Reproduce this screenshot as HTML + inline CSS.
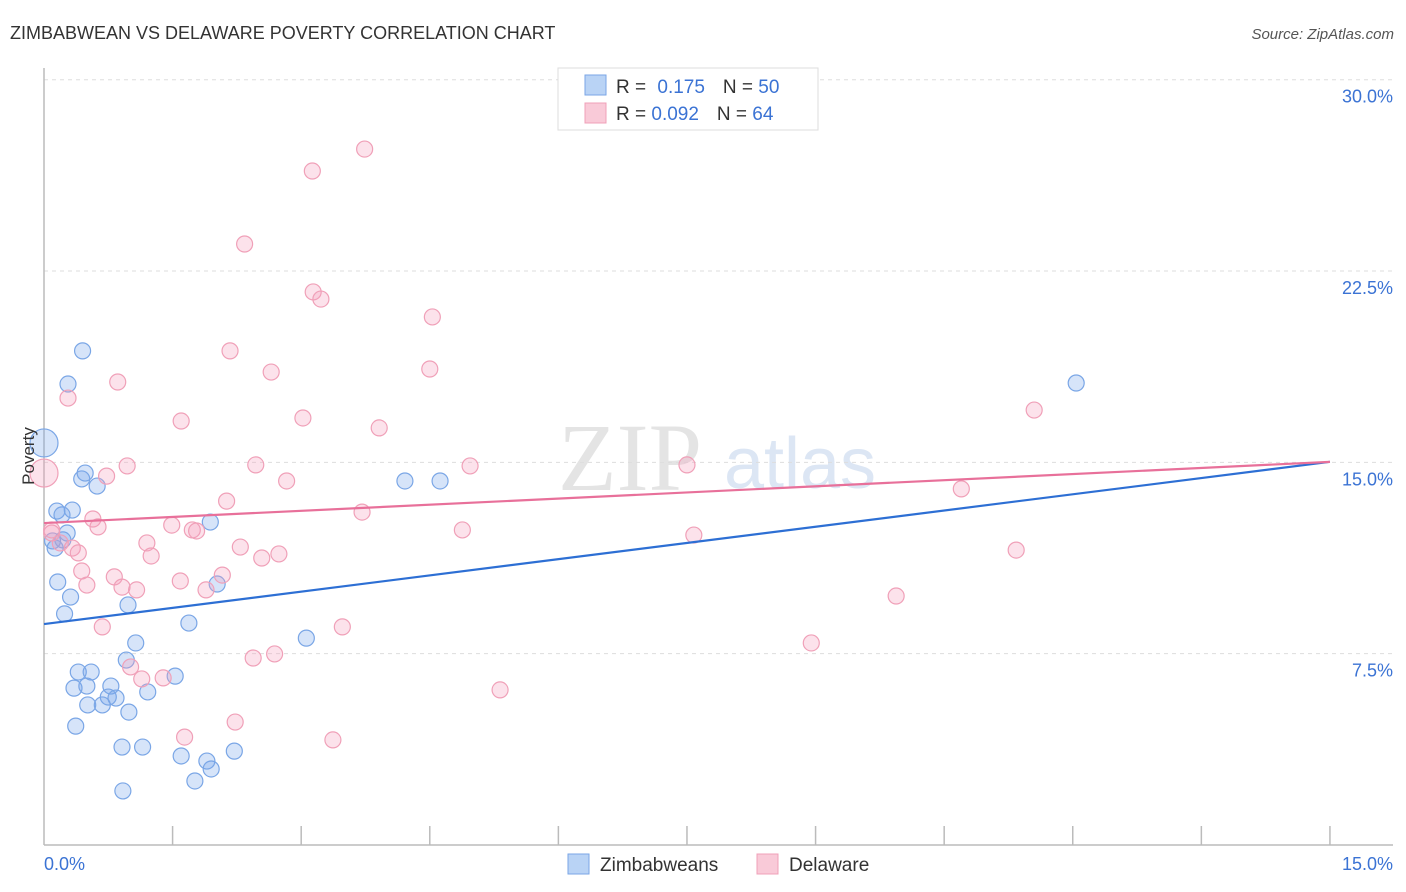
<!DOCTYPE html>
<html><head><meta charset="utf-8"><style>
body{margin:0;background:#fff;font-family:"Liberation Sans",sans-serif;}
svg{display:block}
</style></head><body>
<svg id="chart" width="1406" height="892">
<text x="10" y="39" font-size="18" fill="#333">ZIMBABWEAN VS DELAWARE POVERTY CORRELATION CHART</text>
<text x="1394" y="39" font-size="15" fill="#555" font-style="italic" text-anchor="end">Source: ZipAtlas.com</text>
<text x="630" y="490" font-size="96" fill="#e4e4e4" font-family="Liberation Serif" text-anchor="middle">ZIP</text>
<text x="800" y="488" font-size="72" fill="#dce6f4" text-anchor="middle">atlas</text>
<g id="grid"></g>
<g id="axes"></g>
<g id="marks"></g>
<text transform="translate(34,456) rotate(-90)" font-size="17" fill="#333" text-anchor="middle">Poverty</text>
<g>
<rect x="558" y="68" width="260" height="62" fill="#fff" stroke="#ddd"/>
<rect x="585" y="75" width="21" height="20" fill="#b9d3f5" stroke="#7aa6e6"/>
<rect x="585" y="103" width="21" height="20" fill="#f9cad8" stroke="#f0a0b8"/>
<text x="616" y="93" font-size="19" fill="#333">R = <tspan fill="#3b73d4" dx="6">0.175</tspan><tspan dx="18" fill="#333">N = </tspan><tspan fill="#3b73d4">50</tspan></text>
<text x="616" y="120" font-size="19" fill="#333">R = <tspan fill="#3b73d4">0.092</tspan><tspan dx="18" fill="#333">N = </tspan><tspan fill="#3b73d4">64</tspan></text>
</g>
<g>
<rect x="568" y="854" width="21" height="20" fill="#b9d3f5" stroke="#7aa6e6"/>
<text x="600" y="871" font-size="19" fill="#333">Zimbabweans</text>
<rect x="757" y="854" width="21" height="20" fill="#f9cad8" stroke="#f0a0b8"/>
<text x="789" y="871" font-size="19" fill="#333">Delaware</text>
</g>
</svg>
<script>
const yTicks=[7.5,15,22.5,30];
const yTickLabels=["7.5%","15.0%","22.5%","30.0%"];
const xTickLabels=["0.0%","15.0%"];
const blueX=[0,0.45,0.28,0.44,0.48,0.62,0.15,0.33,0.21,0.27,0.10,0.13,0.22,0.16,0.31,0.24,0.98,1.94,2.02,1.69,1.07,0.96,0.40,0.55,1.53,0.35,0.50,0.78,1.21,0.75,0.84,0.51,0.68,0.99,0.37,0.91,1.15,1.60,1.90,1.95,2.22,1.76,0.92,3.06,4.21,4.62,12.04];
const blueY=[15.76,19.37,18.07,14.35,14.58,14.07,13.09,13.13,12.94,12.23,11.92,11.64,11.96,10.31,9.72,9.06,9.41,12.66,10.23,8.70,7.92,7.25,6.78,6.78,6.62,6.15,6.23,6.23,6.00,5.80,5.76,5.49,5.49,5.21,4.66,3.84,3.84,3.49,3.29,2.98,3.68,2.51,2.12,8.11,14.27,14.27,18.11];
const pinkX=[0,3.74,3.13,2.34,3.14,3.23,4.53,2.17,2.65,4.50,0.86,0.28,1.60,3.02,3.91,0.97,2.47,2.83,4.97,7.50,11.55,10.70,0.73,2.13,3.71,0.57,0.63,1.49,1.73,1.78,4.88,7.58,2.29,1.20,1.25,2.54,2.74,11.34,0.09,0.19,0.33,0.40,0.44,0.50,0.82,0.91,1.08,1.59,2.08,1.89,0.68,3.48,2.44,2.69,8.95,9.94,1.01,1.14,1.39,5.32,2.23,1.64,3.37,0.09];
const pinkY=[14.58,27.28,26.42,23.56,21.68,21.40,20.70,19.37,18.54,18.66,18.15,17.52,16.62,16.74,16.35,14.86,14.90,14.27,14.86,14.90,17.05,13.96,14.46,13.48,13.05,12.78,12.47,12.54,12.35,12.31,12.35,12.15,11.68,11.84,11.33,11.25,11.41,11.56,12.23,11.84,11.64,11.45,10.74,10.19,10.51,10.11,10.00,10.35,10.58,10.00,8.55,8.55,7.33,7.49,7.92,9.76,6.98,6.51,6.55,6.08,4.82,4.23,4.12,12.35];
const blueTrend=[8.66,15.02];
const pinkTrend=[12.62,15.02];
const NS="http://www.w3.org/2000/svg";
const xs=v=>44+v*85.73, ys=v=>845-v*25.51;
function mk(t,a,p){const e=document.createElementNS(NS,t);for(const k in a)e.setAttribute(k,a[k]);p.appendChild(e);return e;}
const grid=document.getElementById('grid'),axes=document.getElementById('axes'),marks=document.getElementById('marks');
yTicks.forEach((v,i)=>{
 const l=mk('line',{x1:44,x2:1393,y1:ys(v),y2:ys(v),stroke:'#ddd','stroke-dasharray':'4,4'},grid);
 
 
 const t=mk('text',{x:1393,y:ys(v)+23,'font-size':18,fill:'#3b73d4','text-anchor':'end'},axes);t.textContent=yTickLabels[i];
 
 
});
const ax=mk('line',{x1:44,x2:1393,y1:845,y2:845,stroke:'#bbb','stroke-width':1.5},axes);


const ay=mk('line',{x1:44,x2:44,y1:68,y2:845,stroke:'#bbb','stroke-width':1.5},axes);


for(let i=1;i<=10;i++){const t=mk('line',{x1:xs(i*1.5),x2:xs(i*1.5),y1:826,y2:845,stroke:'#bbb','stroke-width':1.5},axes);
 
 }
const xl0=mk('text',{x:44,y:870,'font-size':18,fill:'#3b73d4'},axes);xl0.textContent=xTickLabels[0];


const xl1=mk('text',{x:1393,y:870,'font-size':18,fill:'#3b73d4','text-anchor':'end'},axes);xl1.textContent=xTickLabels[1];


function pts(X,Y,fill,stroke,name){X.forEach((x,i)=>{const c=mk('circle',{cx:xs(x),cy:ys(Y[i]),r:i===0?14:8,fill:fill,stroke:stroke,'stroke-width':1.2},marks);
 
 });}
pts(blueX,blueY,'rgba(120,165,235,0.3)','#7aa6e6','zimbabwean-point');
pts(pinkX,pinkY,'rgba(245,160,190,0.3)','#f0a0b8','delaware-point');
const bl=mk('line',{x1:xs(0),y1:ys(blueTrend[0]),x2:xs(15),y2:ys(blueTrend[1]),stroke:'#2d6fd4','stroke-width':2.2},marks);


const pl=mk('line',{x1:xs(0),y1:ys(pinkTrend[0]),x2:xs(15),y2:ys(pinkTrend[1]),stroke:'#e8709a','stroke-width':2.2},marks);


</script>
</body></html>
